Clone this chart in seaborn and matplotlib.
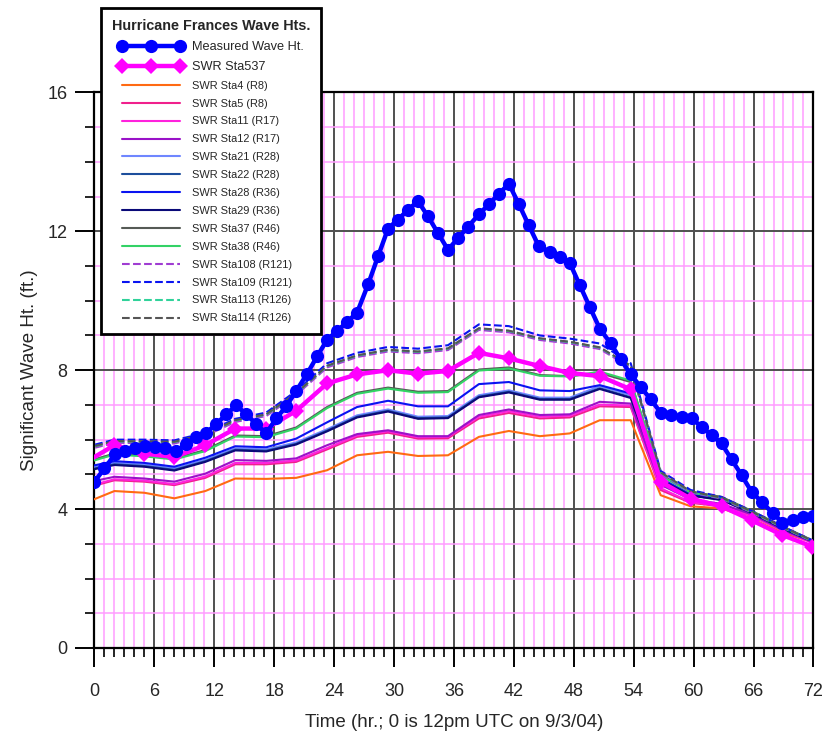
import seaborn as sns
import matplotlib.pyplot as plt
from matplotlib.ticker import MultipleLocator

# --- data ---
hours_measured = [0.0, 1.0, 2.1, 3.1, 4.1, 5.1, 6.1, 7.1,
                  8.2, 9.2, 10.2, 11.2, 12.2, 13.2, 14.2, 15.2, 16.2,
                  17.2, 18.2, 19.2, 20.2,
                  21.3, 22.3, 23.3, 24.3, 25.3, 26.3,
                  27.4, 28.4, 29.4, 30.4, 31.4, 32.4, 33.4, 34.4, 35.4, 36.4, 37.4,
                  38.5, 39.5, 40.5, 41.5, 42.5, 43.5, 44.5,
                  45.6, 46.6, 47.6, 48.6, 49.6, 50.6,
                  51.7, 52.7, 53.7, 54.7, 55.7, 56.7, 57.7,
                  58.8, 59.8, 60.8, 61.8, 62.8, 63.8, 64.8, 65.8, 66.8,
                  67.9, 68.9, 70.0, 71.0, 72.0]
measured = [4.79, 5.17, 5.6, 5.67, 5.75, 5.81, 5.78, 5.75,
            5.67, 5.87, 6.08, 6.2, 6.45, 6.73, 6.99, 6.73, 6.45,
            6.18, 6.61, 6.96, 7.4,
            7.9, 8.4, 8.88, 9.13, 9.39, 9.66,
            10.47, 11.28, 12.08, 12.34, 12.62, 12.87, 12.43, 11.95, 11.47, 11.8, 12.13,
            12.49, 12.78, 13.08, 13.37, 12.78, 12.17, 11.57,
            11.4, 11.26, 11.09, 10.45, 9.82, 9.2,
            8.77, 8.31, 7.88, 7.52, 7.16, 6.78, 6.71,
            6.66, 6.61, 6.37, 6.13, 5.89, 5.43, 4.98, 4.5, 4.21,
            3.89, 3.61, 3.7, 3.76, 3.8]

# model output times (SWR stations)
hours_model = [-1.0, 2.0, 5.0, 8.0, 11.1, 14.1, 17.2, 20.2, 23.3, 26.3, 29.4, 32.4, 35.4,
               38.5, 41.5, 44.6, 47.6, 50.6, 53.7, 56.7, 59.7, 62.8, 65.8, 68.9, 71.9]

sta537 = [5.33, 5.84, 5.6, 5.5, 5.84, 6.32, 6.32, 6.83, 7.62, 7.88, 8.0, 7.9, 7.98,
          8.5, 8.34, 8.12, 7.92, 7.83, 7.45, 4.79, 4.3, 4.08, 3.68, 3.25, 2.92]
sta4 = [4.17, 4.52, 4.47, 4.31, 4.52, 4.88, 4.87, 4.9, 5.12, 5.55, 5.65, 5.53, 5.55,
        6.08, 6.25, 6.1, 6.18, 6.56, 6.56, 4.4, 4.08, 4.02, 3.72, 3.32, 3.05]
sta5 = [4.6, 4.83, 4.79, 4.69, 4.9, 5.29, 5.29, 5.36, 5.72, 6.08, 6.2, 6.03, 6.04,
        6.61, 6.77, 6.61, 6.64, 6.96, 6.94, 4.55, 4.18, 4.08, 3.8, 3.38, 3.05]
sta11 = [4.63, 4.86, 4.82, 4.72, 4.94, 5.33, 5.33, 5.4, 5.76, 6.12, 6.24, 6.07, 6.08,
         6.66, 6.82, 6.66, 6.69, 7.01, 6.98, 4.6, 4.2, 4.1, 3.8, 3.38, 3.03]
sta12 = [4.75, 4.93, 4.88, 4.79, 5.02, 5.41, 5.39, 5.46, 5.84, 6.16, 6.27, 6.1, 6.1,
         6.71, 6.87, 6.71, 6.73, 7.09, 7.04, 4.7, 4.28, 4.15, 3.85, 3.4, 3.05]
sta21 = [5.15, 5.33, 5.28, 5.17, 5.42, 5.75, 5.72, 5.92, 6.3, 6.7, 6.87, 6.66, 6.68,
         7.28, 7.42, 7.21, 7.21, 7.54, 7.28, 4.9, 4.42, 4.28, 3.9, 3.45, 3.08]
sta22 = [5.11, 5.29, 5.24, 5.13, 5.38, 5.71, 5.68, 5.88, 6.26, 6.66, 6.83, 6.62, 6.64,
         7.24, 7.38, 7.17, 7.17, 7.48, 7.22, 4.85, 4.4, 4.27, 3.9, 3.45, 3.08]
sta28 = [5.2, 5.38, 5.33, 5.22, 5.48, 5.81, 5.78, 6.03, 6.5, 6.94, 7.12, 6.96, 6.96,
         7.6, 7.66, 7.42, 7.4, 7.57, 7.33, 4.88, 4.42, 4.3, 3.92, 3.45, 3.08]
sta29 = [5.09, 5.27, 5.22, 5.11, 5.36, 5.69, 5.66, 5.86, 6.24, 6.64, 6.81, 6.6, 6.62,
         7.22, 7.36, 7.15, 7.15, 7.46, 7.2, 4.84, 4.39, 4.26, 3.89, 3.44, 3.07]
sta37 = [5.35, 5.6, 5.55, 5.46, 5.7, 6.12, 6.1, 6.35, 6.94, 7.35, 7.5, 7.38, 7.4,
         8.02, 8.08, 7.86, 7.83, 7.92, 7.66, 5.0, 4.5, 4.35, 3.95, 3.5, 3.1]
sta38 = [5.32, 5.57, 5.52, 5.43, 5.67, 6.09, 6.07, 6.32, 6.91, 7.32, 7.47, 7.35, 7.37,
         7.99, 8.05, 7.84, 7.82, 7.96, 7.7, 4.97, 4.48, 4.33, 3.94, 3.49, 3.09]
sta108 = [5.69, 5.91, 5.9, 5.89, 6.11, 6.51, 6.68, 7.29, 8.08, 8.38, 8.54, 8.49, 8.58,
          9.16, 9.09, 8.87, 8.77, 8.61, 8.08, 5.02, 4.48, 4.3, 3.9, 3.47, 3.07]
sta109 = [5.78, 6.0, 6.0, 5.98, 6.2, 6.6, 6.78, 7.4, 8.2, 8.5, 8.67, 8.62, 8.72,
          9.32, 9.27, 9.0, 8.91, 8.77, 8.2, 5.1, 4.55, 4.35, 3.95, 3.5, 3.1]
sta113 = [5.73, 5.95, 5.94, 5.93, 6.15, 6.55, 6.72, 7.33, 8.12, 8.42, 8.58, 8.53, 8.62,
          9.2, 9.13, 8.91, 8.81, 8.65, 8.12, 5.05, 4.5, 4.32, 3.92, 3.48, 3.08]
sta114 = [5.74, 5.96, 5.95, 5.94, 6.16, 6.56, 6.73, 7.34, 8.13, 8.43, 8.59, 8.54, 8.63,
          9.21, 9.14, 8.92, 8.82, 8.66, 8.13, 5.06, 4.51, 4.33, 3.93, 3.49, 3.09]

# station lines: (label, values, colour, dashed)
stations = [
    ("SWR Sta4 (R8)", sta4, "#ff6a13", False),
    ("SWR Sta5 (R8)", sta5, "#f0208c", False),
    ("SWR Sta11 (R17)", sta11, "#ff22dd", False),
    ("SWR Sta12 (R17)", sta12, "#9a12c8", False),
    ("SWR Sta21 (R28)", sta21, "#6f86ff", False),
    ("SWR Sta22 (R28)", sta22, "#1d4e9c", False),
    ("SWR Sta28 (R36)", sta28, "#0a14f0", False),
    ("SWR Sta29 (R36)", sta29, "#0a0a78", False),
    ("SWR Sta37 (R46)", sta37, "#555a55", False),
    ("SWR Sta38 (R46)", sta38, "#33d266", False),
    ("SWR Sta108 (R121)", sta108, "#a03cd2", True),
    ("SWR Sta109 (R121)", sta109, "#0a14f0", True),
    ("SWR Sta113 (R126)", sta113, "#30d29a", True),
    ("SWR Sta114 (R126)", sta114, "#555555", True),
]

sns.set_style("white")
plt.rcParams["font.family"] = ["Liberation Sans", "DejaVu Sans"]

fig = plt.figure(figsize=(8.25, 7.38), dpi=100)
ax = fig.add_axes([0.1145, 0.122, 0.8715, 0.7527])

# measured first so it leads the legend
sns.lineplot(x=hours_measured, y=measured, ax=ax, color="#0000ff", linewidth=3.2,
             marker="o", markersize=9.5, markeredgecolor="#0000ff", markeredgewidth=0,
             label="Measured Wave Ht.", zorder=6)
sns.lineplot(x=hours_model, y=sta537, ax=ax, color="#ff00ff", linewidth=3.2,
             marker="D", markersize=8.5, markeredgecolor="#ff00ff", markeredgewidth=0,
             label="SWR Sta537", zorder=5)
for name, vals, col, dashed in stations:
    sns.lineplot(x=hours_model, y=vals, ax=ax, color=col, linewidth=1.5,
                 linestyle="--" if dashed else "-",
                 dashes=(5, 3.5) if dashed else (None, None),
                 label=name, zorder=3)

ax.set_xlim(0, 72)
ax.set_ylim(0, 16)
ax.xaxis.set_major_locator(MultipleLocator(6))
ax.xaxis.set_minor_locator(MultipleLocator(1))
ax.yaxis.set_major_locator(MultipleLocator(4))
ax.yaxis.set_minor_locator(MultipleLocator(1))

ax.grid(which="minor", color="#ff9cff", linewidth=1.1, zorder=0)
ax.grid(which="major", color="#505050", linewidth=1.4, zorder=1)
ax.set_axisbelow(True)

for sp in ax.spines.values():
    sp.set_color("black")
    sp.set_linewidth(1.6)
    sp.set_visible(True)

ax.tick_params(which="major", direction="out", length=13.5, width=1.4, color="black",
               labelsize=13, pad=12, bottom=True, left=True)
ax.tick_params(which="minor", direction="out", length=6.5, width=1.2, color="black",
               bottom=True, left=True)
ax.tick_params(axis="y", which="major", pad=6)

ax.set_xlabel("Time (hr.; 0 is 12pm UTC on 9/3/04)", fontsize=13.5, labelpad=10)
ax.set_ylabel("Significant Wave Ht. (ft.)", fontsize=13.5, labelpad=7)

leg = ax.legend(loc="upper left", bbox_to_anchor=(101 / 825, 1 - 8 / 738),
                bbox_transform=fig.transFigure, borderaxespad=0,
                title="Hurricane Frances Wave Hts.",
                title_fontproperties={"weight": "bold", "size": 10.4},
                fontsize=7.9, numpoints=3, handlelength=5.9, handletextpad=0.8,
                labelspacing=0.72, borderpad=1.0, fancybox=False, framealpha=1)
leg.get_frame().set_edgecolor("black")
leg.get_frame().set_linewidth(2.0)
leg.set_zorder(10)
for i, t in enumerate(leg.get_texts()):
    if i < 2:
        t.set_fontsize(9.2)

fig.savefig("out.png", dpi=100)
